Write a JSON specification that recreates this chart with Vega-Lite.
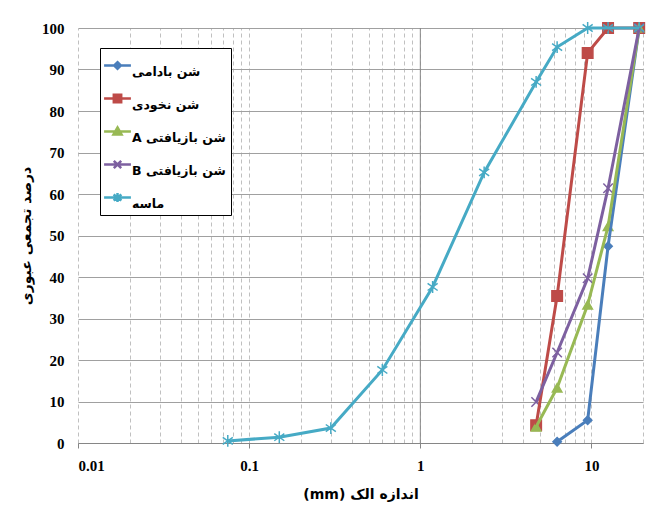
{
  "$schema": "https://vega.github.io/schema/vega-lite/v6.json",
  "width": 565,
  "height": 415,
  "autosize": {"type": "none"},
  "padding": {"left": 78, "top": 28, "right": 14, "bottom": 75},
  "background": "white",
  "config": {
    "view": {"stroke": null},
    "axis": {"labelFont": "Liberation Serif", "labelFontWeight": "bold", "labelFontSize": 15, "labelColor": "black", "titleFont": "DejaVu Sans", "titleFontWeight": "bold", "titleFontSize": 14, "titleColor": "black"}
  },
  "data": {
    "values": [
      {"series": "badami", "x": 6.3, "y": 0.3},
      {"series": "badami", "x": 9.5, "y": 5.5},
      {"series": "badami", "x": 12.5, "y": 47.4},
      {"series": "badami", "x": 19, "y": 100},
      {"series": "nokhodi", "x": 4.75, "y": 4.3},
      {"series": "nokhodi", "x": 6.3, "y": 35.4},
      {"series": "nokhodi", "x": 9.5, "y": 94},
      {"series": "nokhodi", "x": 12.5, "y": 100},
      {"series": "nokhodi", "x": 19, "y": 100},
      {"series": "A", "x": 4.75, "y": 3.9},
      {"series": "A", "x": 6.3, "y": 13.3},
      {"series": "A", "x": 9.5, "y": 33.3},
      {"series": "A", "x": 12.5, "y": 52.2},
      {"series": "A", "x": 19, "y": 100},
      {"series": "B", "x": 4.75, "y": 9.9},
      {"series": "B", "x": 6.3, "y": 21.8},
      {"series": "B", "x": 9.5, "y": 39.7},
      {"series": "B", "x": 12.5, "y": 61.4},
      {"series": "B", "x": 19, "y": 100},
      {"series": "mase", "x": 0.075, "y": 0.5},
      {"series": "mase", "x": 0.15, "y": 1.4},
      {"series": "mase", "x": 0.3, "y": 3.6},
      {"series": "mase", "x": 0.6, "y": 17.6},
      {"series": "mase", "x": 1.18, "y": 37.6},
      {"series": "mase", "x": 2.36, "y": 65.2},
      {"series": "mase", "x": 4.75, "y": 87},
      {"series": "mase", "x": 6.3, "y": 95.4},
      {"series": "mase", "x": 9.5, "y": 100},
      {"series": "mase", "x": 12.5, "y": 100},
      {"series": "mase", "x": 19, "y": 100}
    ]
  },
  "resolve": {"axis": {"x": "independent"}},
  "layer": [
    {
      "data": {"values": [{"x": 1}]},
      "mark": {"type": "rule", "color": "#868686", "strokeWidth": 1},
      "encoding": {
        "x": {"field": "x", "type": "quantitative", "scale": {"type": "log", "domain": [0.01, 20], "nice": false}, "axis": null}
      }
    },
    {
      "mark": {"type": "point", "filled": true, "strokeWidth": 1.5, "opacity": 1},
      "encoding": {
        "x": {"field": "x", "type": "quantitative", "scale": {"type": "log", "domain": [0.01, 20], "nice": false},
          "axis": {"orient": "top", "values": [0.01, 0.02, 0.03, 0.04, 0.05, 0.06, 0.07, 0.08, 0.09, 0.1, 0.2, 0.3, 0.4, 0.5, 0.6, 0.7, 0.8, 0.9, 1, 2, 3, 4, 5, 6, 7, 8, 9, 10, 20], "grid": true, "gridColor": "#c0c0c0", "gridDash": [4, 3], "gridWidth": 1, "labels": false, "ticks": false, "domain": false, "title": null}},
        "y": {"field": "y", "type": "quantitative", "scale": {"domain": [0, 100], "nice": false},
          "axis": {"values": [0, 10, 20, 30, 40, 50, 60, 70, 80, 90, 100], "grid": true, "gridColor": "#a0a0a0", "gridWidth": 1, "domain": false, "ticks": false, "labelPadding": 14, "title": "درصد تجمعی عبوری", "titlePadding": 8}},
        "shape": {"field": "series", "type": "nominal", "scale": {"range": ["triangle-up", "M-1,-1L1,1M-1,1L1,-1", "diamond", "M0,-1V1M-0.85,-0.6L0.85,0.6M-0.85,0.6L0.85,-0.6", "square"]}, "legend": null},
        "size": {"field": "series", "type": "nominal", "scale": {"type": "ordinal", "range": [90, 90, 70, 140, 110]}, "legend": null},
        "fill": {"field": "series", "type": "nominal", "scale": {"range": ["#98b954", "#7d60a0", "#4a7ebb", "#46aac5", "#be4b48"]}, "legend": null},
        "stroke": {"field": "series", "type": "nominal", "scale": {"range": ["#98b954", "#7d60a0", "#4a7ebb", "#46aac5", "#be4b48"]}, "legend": null}
      }
    },
    {
      "mark": {"type": "line", "strokeWidth": 3},
      "encoding": {
        "x": {"field": "x", "type": "quantitative", "scale": {"type": "log", "domain": [0.01, 20], "nice": false},
          "axis": {"orient": "bottom", "values": [0.01, 0.1, 1, 10], "grid": false, "ticks": true, "tickSize": 5, "tickColor": "#868686", "domainColor": "#868686", "labelPadding": 10, "labelExpr": "datum.value < 1 ? format(datum.value, '') : format(datum.value, 'd')", "title": "\u202Bاندازه الک (mm)\u202C", "titlePadding": 14}},
        "y": {"field": "y", "type": "quantitative", "scale": {"domain": [0, 100], "nice": false},
          "axis": {"values": [0, 10, 20, 30, 40, 50, 60, 70, 80, 90, 100], "grid": true, "gridColor": "#a0a0a0", "gridWidth": 1, "domain": false, "ticks": false, "labelPadding": 14, "title": "درصد تجمعی عبوری", "titlePadding": 8}},
        "order": {"field": "x", "type": "quantitative"},
        "color": {"field": "series", "type": "nominal", "scale": {"domain": ["badami", "nokhodi", "A", "B", "mase"], "range": ["#4a7ebb", "#be4b48", "#98b954", "#7d60a0", "#46aac5"]},
          "legend": {
            "orient": "none", "legendX": 22, "legendY": 20, "title": null,
            "fillColor": "white", "strokeColor": "black", "padding": 5, "rowPadding": 8,
            "symbolSize": 500, "symbolStrokeWidth": 2.5, "symbolType": "stroke",
            "labelFont": "DejaVu Sans", "labelFontWeight": "bold", "labelFontSize": 12.5, "labelColor": "black", "labelOffset": 2, "labelBaseline": "top",
            "labelExpr": "datum.value == 'badami' ? 'شن بادامی' : datum.value == 'nokhodi' ? 'شن نخودی' : datum.value == 'A' ? '\u202Bشن بازیافتی A\u202C' : datum.value == 'B' ? '\u202Bشن بازیافتی B\u202C' : 'ماسه'",
            "encode": {
              "symbols": {
                "update": {
                  "shape": {"signal": "datum.value == 'badami' ? 'M-1.2,0H1.2M0,-0.3L0.3,0L0,0.3L-0.3,0Z' : datum.value == 'nokhodi' ? 'M-1.2,0H1.2M-0.33,-0.33H0.33V0.33H-0.33Z' : datum.value == 'A' ? 'M-1.2,0H1.2M0,-0.36L0.36,0.27H-0.36Z' : datum.value == 'B' ? 'M-1.2,0H1.2M-0.33,-0.33L0.33,0.33M-0.33,0.33L0.33,-0.33' : 'M-1.2,0H1.2M0,-0.4V0.4M-0.35,-0.27L0.35,0.27M-0.35,0.27L0.35,-0.27'"},
                  "fill": {"signal": "datum.value == 'badami' ? '#4a7ebb' : datum.value == 'nokhodi' ? '#be4b48' : datum.value == 'A' ? '#98b954' : datum.value == 'B' ? '#7d60a0' : '#46aac5'"},
                  "stroke": {"signal": "datum.value == 'badami' ? '#4a7ebb' : datum.value == 'nokhodi' ? '#be4b48' : datum.value == 'A' ? '#98b954' : datum.value == 'B' ? '#7d60a0' : '#46aac5'"},
                  "strokeWidth": {"value": 2.5},
                  "opacity": {"value": 1}
                }
              }
            }
          }
        }
      }
    }
  ]
}
